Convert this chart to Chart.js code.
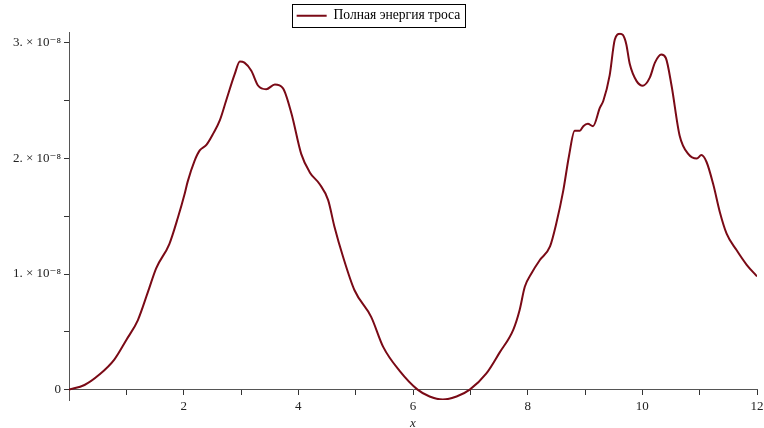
<!DOCTYPE html>
<html>
<head>
<meta charset="utf-8">
<script src="https://cdn.jsdelivr.net/npm/chart.js@4/dist/chart.umd.min.js"></script>
<style>
  html, body { margin: 0; padding: 0; background: #fff; }
  #wrap { width: 764px; height: 428px; }
</style>
</head>
<body>
<div id="wrap"><canvas id="energyChart"></canvas></div>
<script>
// x values and energy (in units of 10^-8)
const xValues = [0, 0.27, 0.53, 0.79, 1.0, 1.2, 1.38, 1.52, 1.75, 1.9, 2.02, 2.07, 2.19, 2.28, 2.4, 2.52,
  2.63, 2.74, 2.89, 2.98, 3.06, 3.18, 3.3, 3.44, 3.59, 3.73, 3.88, 4.05, 4.2, 4.37, 4.52, 4.63, 4.78,
  4.98, 5.27, 5.48, 5.77, 6.08, 6.29, 6.52, 6.76, 6.99, 7.28, 7.51, 7.75, 7.86, 7.95, 8.07, 8.21, 8.39,
  8.5, 8.62, 8.72, 8.82, 8.91, 8.97, 9.05, 9.14, 9.26, 9.32, 9.43, 9.52, 9.61, 9.66, 9.72, 9.78, 9.9,
  10.01, 10.13, 10.22, 10.33, 10.41, 10.51, 10.65, 10.8, 10.95, 11.03, 11.12, 11.24, 11.35, 11.47,
  11.64, 11.82, 12.0];
const energyValues = [0, 0.04, 0.13, 0.26, 0.43, 0.6, 0.85, 1.05, 1.26, 1.49, 1.7, 1.8, 1.98, 2.07, 2.12, 2.22,
  2.33, 2.5, 2.73, 2.84, 2.83, 2.76, 2.63, 2.6, 2.64, 2.61, 2.39, 2.04, 1.88, 1.78, 1.64, 1.41, 1.15,
  0.86, 0.63, 0.37, 0.16, 0, -0.06, -0.086, -0.06, 0, 0.14, 0.32, 0.52, 0.69, 0.89, 1.01, 1.12, 1.24,
  1.44, 1.72, 2.02, 2.24, 2.24, 2.28, 2.3, 2.28, 2.44, 2.5, 2.72, 3.03, 3.08, 3.07, 2.99, 2.82, 2.67,
  2.63, 2.7, 2.83, 2.9, 2.87, 2.63, 2.2, 2.04, 2.0, 2.03, 1.97, 1.77, 1.54, 1.35,
  1.21, 1.08, 0.98];

const xTickValues = [2, 4, 6, 8, 10, 12];
const xTickLabels = ['2', '4', '6', '8', '10', '12'];
const yTickValues = [0, 1, 2, 3];
const yTickLabels = ['0', '1. × 10⁻⁸', '2. × 10⁻⁸', '3. × 10⁻⁸'];

const seriesName = 'Полная энергия троса';
const xAxisName = 'x';

const serif = "'Liberation Serif', 'DejaVu Serif', serif";

// draws the thin frame round the legend
const legendFrame = {
  id: 'legendFrame',
  afterDraw(chart) {
    const box = chart.legend.legendHitBoxes[0];
    if (!box) return;
    const c = chart.ctx;
    c.save();
    c.strokeStyle = '#000';
    c.lineWidth = 1;
    c.strokeRect(Math.round(box.left) - 4.5, Math.round(box.top) - 4.5,
      Math.round(box.width) + 9, Math.round(box.height) + 9);
    c.restore();
  }
};

const ctx = document.getElementById('energyChart').getContext('2d');
const energyChart = new Chart(ctx, {
  type: 'line',
  data: {
    datasets: [{
      label: seriesName,
      data: xValues.map((x, i) => ({ x: x, y: energyValues[i] })),
      borderColor: '#7a0a16',
      backgroundColor: '#7a0a16',
      borderWidth: 2,
      pointRadius: 0,
      cubicInterpolationMode: 'monotone',
      fill: false
    }]
  },
  options: {
    responsive: true,
    maintainAspectRatio: false,
    animation: false,
    layout: { padding: { left: 0, right: 7, top: 0, bottom: 28 } },
    plugins: {
      tooltip: { enabled: false },
      legend: {
        display: true,
        position: 'top',
        labels: {
          usePointStyle: true,
          pointStyle: 'line',
          pointStyleWidth: 30,
          padding: 9,
          color: '#000',
          font: { family: serif, size: 13.6 }
        }
      }
    },
    scales: {
      x: {
        type: 'linear',
        position: { y: 0 },
        min: 0,
        max: 12,
        afterFit: function (scale) { scale.paddingLeft = 0; scale.paddingRight = 0; },
        grid: { drawOnChartArea: false, drawTicks: true, tickLength: 5, color: '#333' },
        border: { display: true, color: '#555', width: 1 },
        ticks: {
          stepSize: 1,
          autoSkip: false,
          maxRotation: 0,
          includeBounds: false,
          color: '#222',
          padding: 4,
          font: { family: serif, size: 13 },
          callback: function (value) {
            const i = xTickValues.indexOf(value);
            return i >= 0 ? xTickLabels[i] : '';
          }
        },
        title: {
          display: true,
          text: xAxisName,
          color: '#222',
          padding: { top: -2, bottom: 0 },
          font: { family: serif, size: 13, style: 'italic' }
        }
      },
      y: {
        type: 'linear',
        position: 'left',
        min: -0.09,
        max: 3.09,
        afterFit: function (scale) { scale.width = 69; },
        grid: { drawOnChartArea: false, drawTicks: true, tickLength: 5, color: '#333' },
        border: { display: true, color: '#555', width: 1 },
        ticks: {
          stepSize: 0.5,
          includeBounds: false,
          autoSkip: false,
          color: '#222',
          padding: 3,
          font: { family: serif, size: 13 },
          callback: function (value) {
            const i = yTickValues.indexOf(value);
            return i >= 0 ? yTickLabels[i] : '';
          }
        }
      }
    }
  },
  plugins: [legendFrame]
});
</script>
</body>
</html>
